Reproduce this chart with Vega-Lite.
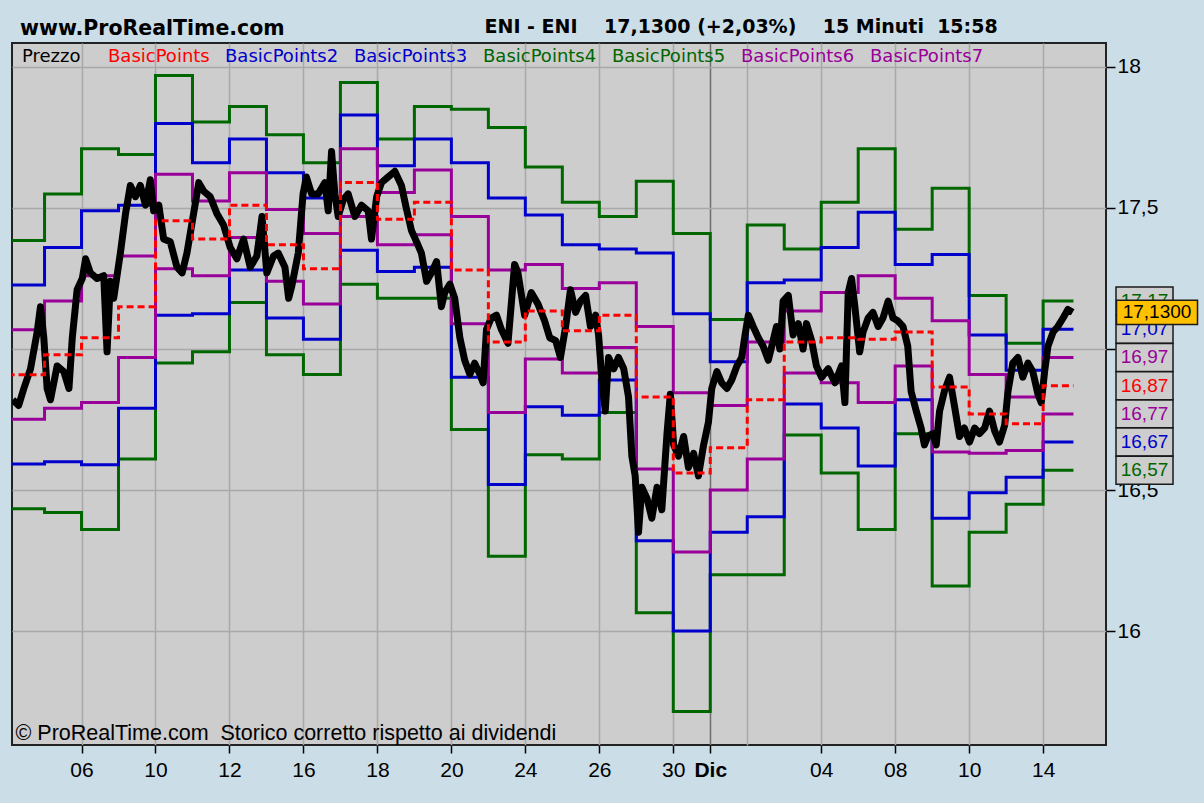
{
"$schema": "https://vega.github.io/schema/vega-lite/v6.json",
"width": 1094,
"height": 702,
"autosize": "none",
"padding": {"left": 12, "top": 43, "right": 98, "bottom": 58},
"background": "#cbdde6",
"config": {"view": {"fill": "#cdcdcd", "stroke": "#222222", "strokeWidth": 2}},
"title": {"text": "www.ProRealTime.com", "anchor": "start", "dx": 13, "dy": 38, "offset": 0, "baseline": "alphabetic", "font": "DejaVu Sans", "fontSize": 20.5, "fontWeight": "bold", "color": "#000000"},
"datasets": {
"levels": [
{"t":-2,"BasicPoints":16.909,"BasicPoints2":17.227,"BasicPoints3":16.592,"BasicPoints4":17.385,"BasicPoints5":16.434,"BasicPoints6":17.068,"BasicPoints7":16.751},
{"t":-1,"BasicPoints":16.98,"BasicPoints2":17.36,"BasicPoints3":16.6,"BasicPoints4":17.55,"BasicPoints5":16.42,"BasicPoints6":17.17,"BasicPoints7":16.79},
{"t":0,"BasicPoints":17.04,"BasicPoints2":17.49,"BasicPoints3":16.59,"BasicPoints4":17.71,"BasicPoints5":16.36,"BasicPoints6":17.26,"BasicPoints7":16.81},
{"t":1,"BasicPoints":17.15,"BasicPoints2":17.51,"BasicPoints3":16.79,"BasicPoints4":17.69,"BasicPoints5":16.61,"BasicPoints6":17.33,"BasicPoints7":16.97},
{"t":2,"BasicPoints":17.455,"BasicPoints2":17.8,"BasicPoints3":17.12,"BasicPoints4":17.97,"BasicPoints5":16.95,"BasicPoints6":17.62,"BasicPoints7":17.285},
{"t":3,"BasicPoints":17.39,"BasicPoints2":17.66,"BasicPoints3":17.125,"BasicPoints4":17.805,"BasicPoints5":16.99,"BasicPoints6":17.525,"BasicPoints7":17.26},
{"t":4,"BasicPoints":17.51,"BasicPoints2":17.745,"BasicPoints3":17.28,"BasicPoints4":17.86,"BasicPoints5":17.165,"BasicPoints6":17.625,"BasicPoints7":17.395},
{"t":5,"BasicPoints":17.37,"BasicPoints2":17.625,"BasicPoints3":17.11,"BasicPoints4":17.76,"BasicPoints5":16.98,"BasicPoints6":17.495,"BasicPoints7":17.24},
{"t":6,"BasicPoints":17.285,"BasicPoints2":17.535,"BasicPoints3":17.035,"BasicPoints4":17.66,"BasicPoints5":16.91,"BasicPoints6":17.41,"BasicPoints7":17.16},
{"t":7,"BasicPoints":17.59,"BasicPoints2":17.83,"BasicPoints3":17.35,"BasicPoints4":17.945,"BasicPoints5":17.23,"BasicPoints6":17.71,"BasicPoints7":17.47},
{"t":8,"BasicPoints":17.46,"BasicPoints2":17.65,"BasicPoints3":17.275,"BasicPoints4":17.745,"BasicPoints5":17.18,"BasicPoints6":17.555,"BasicPoints7":17.37},
{"t":9,"BasicPoints":17.52,"BasicPoints2":17.745,"BasicPoints3":17.29,"BasicPoints4":17.86,"BasicPoints5":17.18,"BasicPoints6":17.635,"BasicPoints7":17.405},
{"t":10,"BasicPoints":17.28,"BasicPoints2":17.66,"BasicPoints3":16.9,"BasicPoints4":17.85,"BasicPoints5":16.715,"BasicPoints6":17.47,"BasicPoints7":17.09},
{"t":11,"BasicPoints":17.025,"BasicPoints2":17.535,"BasicPoints3":16.52,"BasicPoints4":17.785,"BasicPoints5":16.265,"BasicPoints6":17.28,"BasicPoints7":16.775},
{"t":12,"BasicPoints":17.135,"BasicPoints2":17.475,"BasicPoints3":16.795,"BasicPoints4":17.645,"BasicPoints5":16.625,"BasicPoints6":17.3,"BasicPoints7":16.965},
{"t":13,"BasicPoints":17.065,"BasicPoints2":17.37,"BasicPoints3":16.765,"BasicPoints4":17.52,"BasicPoints5":16.61,"BasicPoints6":17.215,"BasicPoints7":16.915},
{"t":14,"BasicPoints":17.12,"BasicPoints2":17.355,"BasicPoints3":16.89,"BasicPoints4":17.47,"BasicPoints5":16.775,"BasicPoints6":17.235,"BasicPoints7":17.005},
{"t":15,"BasicPoints":16.83,"BasicPoints2":17.34,"BasicPoints3":16.32,"BasicPoints4":17.595,"BasicPoints5":16.065,"BasicPoints6":17.08,"BasicPoints7":16.575},
{"t":16,"BasicPoints":16.56,"BasicPoints2":17.125,"BasicPoints3":16.0,"BasicPoints4":17.41,"BasicPoints5":15.715,"BasicPoints6":16.845,"BasicPoints7":16.28},
{"t":17,"BasicPoints":16.65,"BasicPoints2":16.955,"BasicPoints3":16.35,"BasicPoints4":17.105,"BasicPoints5":16.2,"BasicPoints6":16.8,"BasicPoints7":16.5},
{"t":18,"BasicPoints":16.82,"BasicPoints2":17.235,"BasicPoints3":16.405,"BasicPoints4":17.44,"BasicPoints5":16.2,"BasicPoints6":17.025,"BasicPoints7":16.61},
{"t":19,"BasicPoints":17.025,"BasicPoints2":17.245,"BasicPoints3":16.805,"BasicPoints4":17.355,"BasicPoints5":16.695,"BasicPoints6":17.135,"BasicPoints7":16.915},
{"t":20,"BasicPoints":17.04,"BasicPoints2":17.36,"BasicPoints3":16.72,"BasicPoints4":17.52,"BasicPoints5":16.56,"BasicPoints6":17.2,"BasicPoints7":16.88},
{"t":21,"BasicPoints":17.035,"BasicPoints2":17.485,"BasicPoints3":16.585,"BasicPoints4":17.71,"BasicPoints5":16.36,"BasicPoints6":17.26,"BasicPoints7":16.81},
{"t":22,"BasicPoints":17.06,"BasicPoints2":17.3,"BasicPoints3":16.82,"BasicPoints4":17.425,"BasicPoints5":16.7,"BasicPoints6":17.18,"BasicPoints7":16.94},
{"t":23,"BasicPoints":16.865,"BasicPoints2":17.335,"BasicPoints3":16.4,"BasicPoints4":17.57,"BasicPoints5":16.16,"BasicPoints6":17.1,"BasicPoints7":16.635},
{"t":24,"BasicPoints":16.77,"BasicPoints2":17.05,"BasicPoints3":16.49,"BasicPoints4":17.19,"BasicPoints5":16.35,"BasicPoints6":16.91,"BasicPoints7":16.63},
{"t":25,"BasicPoints":16.735,"BasicPoints2":16.925,"BasicPoints3":16.545,"BasicPoints4":17.02,"BasicPoints5":16.45,"BasicPoints6":16.83,"BasicPoints7":16.64},
{"t":26,"BasicPoints":16.87,"BasicPoints2":17.07,"BasicPoints3":16.67,"BasicPoints4":17.17,"BasicPoints5":16.57,"BasicPoints6":16.97,"BasicPoints7":16.77},
{"t":26.82,"BasicPoints":16.87,"BasicPoints2":17.07,"BasicPoints3":16.67,"BasicPoints4":17.17,"BasicPoints5":16.57,"BasicPoints6":16.97,"BasicPoints7":16.77}
],
"price": [
{"t":-1.86,"Prezzo":16.82},{"t":-1.7,"Prezzo":16.8},{"t":-1.56,"Prezzo":16.86},{"t":-1.38,"Prezzo":16.93},{"t":-1.2,"Prezzo":17.06},{"t":-1.11,"Prezzo":17.15},{"t":-1.02,"Prezzo":17.04},{"t":-0.93,"Prezzo":16.86},{"t":-0.84,"Prezzo":16.82},{"t":-0.66,"Prezzo":16.94},{"t":-0.48,"Prezzo":16.92},{"t":-0.34,"Prezzo":16.86},{"t":-0.25,"Prezzo":17.04},{"t":-0.12,"Prezzo":17.21},{"t":0.02,"Prezzo":17.25},{"t":0.11,"Prezzo":17.32},{"t":0.24,"Prezzo":17.27},{"t":0.42,"Prezzo":17.25},{"t":0.6,"Prezzo":17.26},{"t":0.69,"Prezzo":16.99},{"t":0.78,"Prezzo":17.24},{"t":0.87,"Prezzo":17.18},{"t":1.05,"Prezzo":17.34},{"t":1.19,"Prezzo":17.48},{"t":1.32,"Prezzo":17.58},{"t":1.46,"Prezzo":17.54},{"t":1.59,"Prezzo":17.58},{"t":1.73,"Prezzo":17.51},{"t":1.86,"Prezzo":17.6},{"t":1.95,"Prezzo":17.49},{"t":2.09,"Prezzo":17.51},{"t":2.22,"Prezzo":17.39},{"t":2.4,"Prezzo":17.38},{"t":2.58,"Prezzo":17.29},{"t":2.72,"Prezzo":17.27},{"t":2.85,"Prezzo":17.34},{"t":3.03,"Prezzo":17.48},{"t":3.17,"Prezzo":17.59},{"t":3.3,"Prezzo":17.56},{"t":3.48,"Prezzo":17.54},{"t":3.66,"Prezzo":17.48},{"t":3.84,"Prezzo":17.44},{"t":4.02,"Prezzo":17.36},{"t":4.2,"Prezzo":17.32},{"t":4.38,"Prezzo":17.39},{"t":4.56,"Prezzo":17.29},{"t":4.74,"Prezzo":17.33},{"t":4.88,"Prezzo":17.47},{"t":5.01,"Prezzo":17.27},{"t":5.19,"Prezzo":17.33},
{"t":5.32,"Prezzo":17.34},{"t":5.5,"Prezzo":17.29},{"t":5.6,"Prezzo":17.18},{"t":5.68,"Prezzo":17.22},{"t":5.86,"Prezzo":17.34},{"t":5.99,"Prezzo":17.55},{"t":6.08,"Prezzo":17.61},{"t":6.22,"Prezzo":17.55},{"t":6.4,"Prezzo":17.55},{"t":6.58,"Prezzo":17.59},{"t":6.67,"Prezzo":17.49},{"t":6.76,"Prezzo":17.7},{"t":6.85,"Prezzo":17.55},{"t":6.94,"Prezzo":17.47},{"t":7.08,"Prezzo":17.53},{"t":7.21,"Prezzo":17.55},{"t":7.39,"Prezzo":17.47},{"t":7.57,"Prezzo":17.51},{"t":7.75,"Prezzo":17.49},{"t":7.84,"Prezzo":17.39},{"t":7.98,"Prezzo":17.54},{"t":8.11,"Prezzo":17.59},{"t":8.29,"Prezzo":17.61},{"t":8.47,"Prezzo":17.63},{"t":8.65,"Prezzo":17.58},{"t":8.78,"Prezzo":17.5},{"t":8.92,"Prezzo":17.42},{"t":9.06,"Prezzo":17.38},{"t":9.19,"Prezzo":17.34},{"t":9.33,"Prezzo":17.24},{"t":9.46,"Prezzo":17.27},{"t":9.6,"Prezzo":17.31},{"t":9.73,"Prezzo":17.15},{"t":9.82,"Prezzo":17.2},{"t":9.96,"Prezzo":17.23},{"t":10.09,"Prezzo":17.18},{"t":10.23,"Prezzo":17.04},{"t":10.36,"Prezzo":16.96},{"t":10.5,"Prezzo":16.91},{"t":10.63,"Prezzo":16.95},{"t":10.77,"Prezzo":16.91},{"t":10.86,"Prezzo":16.88},{"t":10.95,"Prezzo":17.07},{"t":11.08,"Prezzo":17.11},{"t":11.22,"Prezzo":17.12},{"t":11.35,"Prezzo":17.07},{"t":11.53,"Prezzo":17.02},{"t":11.71,"Prezzo":17.3},{"t":11.8,"Prezzo":17.27},{"t":11.98,"Prezzo":17.12},{"t":12.16,"Prezzo":17.2},{"t":12.34,"Prezzo":17.16},{"t":12.52,"Prezzo":17.1},{"t":12.66,"Prezzo":17.04},
{"t":12.82,"Prezzo":17.03},{"t":12.95,"Prezzo":16.97},{"t":13.09,"Prezzo":17.08},{"t":13.22,"Prezzo":17.21},{"t":13.36,"Prezzo":17.13},{"t":13.49,"Prezzo":17.17},{"t":13.63,"Prezzo":17.19},{"t":13.76,"Prezzo":17.08},{"t":13.9,"Prezzo":17.12},{"t":13.98,"Prezzo":17.05},{"t":14.07,"Prezzo":16.89},{"t":14.16,"Prezzo":16.78},{"t":14.25,"Prezzo":16.97},{"t":14.39,"Prezzo":16.93},{"t":14.52,"Prezzo":16.97},{"t":14.66,"Prezzo":16.93},{"t":14.79,"Prezzo":16.83},{"t":14.88,"Prezzo":16.62},{"t":14.97,"Prezzo":16.55},{"t":15.06,"Prezzo":16.35},{"t":15.15,"Prezzo":16.51},{"t":15.29,"Prezzo":16.47},{"t":15.42,"Prezzo":16.4},{"t":15.56,"Prezzo":16.51},{"t":15.69,"Prezzo":16.43},{"t":15.83,"Prezzo":16.7},{"t":15.92,"Prezzo":16.84},{"t":16.01,"Prezzo":16.66},{"t":16.14,"Prezzo":16.62},{"t":16.28,"Prezzo":16.69},{"t":16.41,"Prezzo":16.58},{"t":16.55,"Prezzo":16.63},{"t":16.68,"Prezzo":16.55},{"t":16.82,"Prezzo":16.66},{"t":16.95,"Prezzo":16.74},{"t":17.04,"Prezzo":16.86},{"t":17.18,"Prezzo":16.92},{"t":17.31,"Prezzo":16.88},{"t":17.45,"Prezzo":16.86},{"t":17.58,"Prezzo":16.89},{"t":17.72,"Prezzo":16.94},{"t":17.85,"Prezzo":16.97},{"t":17.94,"Prezzo":17.05},{"t":18.03,"Prezzo":17.12},{"t":18.16,"Prezzo":17.08},{"t":18.3,"Prezzo":17.04},{"t":18.43,"Prezzo":17.01},{"t":18.57,"Prezzo":16.96},{"t":18.7,"Prezzo":17.03},{"t":18.79,"Prezzo":17.08},{"t":18.88,"Prezzo":17.0},{"t":18.97,"Prezzo":17.17},{"t":19.11,"Prezzo":17.19},{"t":19.24,"Prezzo":17.05},{"t":19.38,"Prezzo":17.09},{"t":19.51,"Prezzo":17.0},{"t":19.6,"Prezzo":17.09},{"t":19.74,"Prezzo":17.03},{"t":19.87,"Prezzo":16.94},
{"t":20.01,"Prezzo":16.9},{"t":20.19,"Prezzo":16.93},{"t":20.37,"Prezzo":16.88},{"t":20.55,"Prezzo":16.94},{"t":20.64,"Prezzo":16.81},{"t":20.73,"Prezzo":17.2},{"t":20.82,"Prezzo":17.25},{"t":20.91,"Prezzo":17.15},{"t":21.04,"Prezzo":16.99},{"t":21.13,"Prezzo":17.06},{"t":21.27,"Prezzo":17.11},{"t":21.4,"Prezzo":17.13},{"t":21.54,"Prezzo":17.08},{"t":21.67,"Prezzo":17.11},{"t":21.81,"Prezzo":17.17},{"t":21.94,"Prezzo":17.11},{"t":22.07,"Prezzo":17.1},{"t":22.21,"Prezzo":17.08},{"t":22.34,"Prezzo":17.01},{"t":22.43,"Prezzo":16.85},{"t":22.57,"Prezzo":16.78},{"t":22.7,"Prezzo":16.72},{"t":22.79,"Prezzo":16.66},{"t":22.88,"Prezzo":16.69},{"t":23.02,"Prezzo":16.7},{"t":23.11,"Prezzo":16.66},{"t":23.2,"Prezzo":16.78},{"t":23.33,"Prezzo":16.85},{"t":23.47,"Prezzo":16.9},{"t":23.6,"Prezzo":16.8},{"t":23.74,"Prezzo":16.69},{"t":23.87,"Prezzo":16.72},{"t":24.01,"Prezzo":16.67},{"t":24.15,"Prezzo":16.72},{"t":24.28,"Prezzo":16.7},{"t":24.42,"Prezzo":16.72},{"t":24.55,"Prezzo":16.78},{"t":24.69,"Prezzo":16.71},{"t":24.82,"Prezzo":16.67},{"t":24.96,"Prezzo":16.73},{"t":25.05,"Prezzo":16.85},{"t":25.18,"Prezzo":16.95},{"t":25.32,"Prezzo":16.97},{"t":25.45,"Prezzo":16.9},{"t":25.59,"Prezzo":16.95},{"t":25.72,"Prezzo":16.92},{"t":25.86,"Prezzo":16.84},{"t":25.95,"Prezzo":16.81},{"t":26.04,"Prezzo":16.92},{"t":26.13,"Prezzo":17.01},{"t":26.27,"Prezzo":17.06},{"t":26.4,"Prezzo":17.08},{"t":26.54,"Prezzo":17.11},{"t":26.67,"Prezzo":17.14},{"t":26.8,"Prezzo":17.13}
],
"boxes": [
{"series":"BasicPoints4","v":17.17,"label":"17,17"},
{"series":"BasicPoints2","v":17.07,"label":"17,07"},
{"series":"BasicPoints6","v":16.97,"label":"16,97"},
{"series":"BasicPoints","v":16.87,"label":"16,87"},
{"series":"BasicPoints7","v":16.77,"label":"16,77"},
{"series":"BasicPoints3","v":16.67,"label":"16,67"},
{"series":"BasicPoints5","v":16.57,"label":"16,57"}
],
"lastprice": [{"v":17.13,"label":"17,1300"}]
},
"encoding": {
"x": {"field": "t", "type": "quantitative", "scale": {"domain": [-1.88, 27.7], "nice": false, "zero": false},
"title": "© ProRealTime.com\u00a0\u00a0Storico corretto rispetto ai dividendi",
"axis": {"values": [0,2,4,6,8,10,12,14,16,17,18,20,22,24,26],
"labelExpr": "['06','','10','','12','','16','','18','','20','','24','','26','','30','Dic','','','04','','08','','10','','14'][datum.value]",
"labelOverlap": false, "labelFlush": false, "domain": false, "grid": true,
"gridColor": {"condition": {"test": "datum.value == 17", "value": "#6e6e6e"}, "value": "#a9a9a9"},
"gridWidth": 1.5, "tickColor": "#000000", "tickSize": 8, "tickWidth": 1.5,
"tickOpacity": {"condition": {"test": "datum.value == 18", "value": 0}, "value": 1},
"labelFont": "Liberation Sans", "labelFontSize": 21, "labelColor": "#000000", "labelPadding": 6,
"labelFontWeight": {"condition": {"test": "datum.value == 17", "value": "bold"}, "value": "normal"},
"titleX": 3, "titleY": -12, "titleAlign": "left", "titleBaseline": "middle", "titleAngle": 0,
"titleFont": "Liberation Sans", "titleFontSize": 21.5, "titleFontWeight": "normal", "titleColor": "#000000"}},
"y": {"field": "v", "type": "quantitative", "scale": {"domain": [15.596, 18.085], "nice": false, "zero": false},
"title": "ENI - ENI\u00a0\u00a0\u00a0\u00a017,1300 (+2,03%)\u00a0\u00a0\u00a0\u00a015 Minuti\u00a0\u00a015:58",
"axis": {"orient": "right", "values": [16,16.5,17,17.5,18],
"labelExpr": "datum.value == 17 ? '' : replace(format(datum.value, '.1~f'), '.', ',')",
"domain": false, "grid": true, "gridColor": "#a9a9a9", "gridWidth": 1.5,
"tickColor": "#000000", "tickSize": 9, "tickWidth": 1.5,
"labelFont": "Liberation Sans", "labelFontSize": 21, "labelColor": "#000000", "labelPadding": 2,
"labelOverlap": false, "labelFlush": false,
"titleX": -622, "titleY": -17, "titleAngle": 0, "titleAlign": "left", "titleBaseline": "middle",
"titleFont": "DejaVu Sans", "titleFontSize": 19, "titleFontWeight": "bold", "titleColor": "#000000"}},
"color": {"field": "series", "type": "nominal",
"scale": {"domain": ["Prezzo","BasicPoints","BasicPoints2","BasicPoints3","BasicPoints4","BasicPoints5","BasicPoints6","BasicPoints7"],
"range": ["#000000","#ff0000","#0000cc","#0000cc","#006600","#006600","#990099","#990099"]},
"legend": {"orient": "none", "legendX": -5, "legendY": 5, "direction": "horizontal", "title": null, "padding": 0,
"symbolSize": 0, "symbolStrokeWidth": 0, "symbolOpacity": 0,
"labelFont": "DejaVu Sans", "labelFontSize": 18, "labelOffset": -3, "columnPadding": 0, "labelLimit": 300,
"encode": {"labels": {"update": {
"fill": {"scale": "color", "field": "value"},
"dx": {"signal": "datum.index == 1 ? 12 : 0"}}}}}}
},
"layer": [
{"data": {"name": "levels"},
"transform": [{"fold": ["BasicPoints4","BasicPoints5","BasicPoints2","BasicPoints3","BasicPoints6","BasicPoints7"], "as": ["series","v"]}],
"mark": {"type": "line", "interpolate": "step-after", "strokeWidth": 3, "clip": true}},
{"data": {"name": "price"},
"transform": [{"fold": ["Prezzo"], "as": ["series","v"]}],
"mark": {"type": "line", "strokeWidth": 7, "strokeJoin": "round", "clip": true}},
{"data": {"name": "levels"},
"transform": [{"fold": ["BasicPoints"], "as": ["series","v"]}],
"mark": {"type": "line", "interpolate": "step-after", "strokeWidth": 3, "strokeDash": [7,4], "clip": true}},
{"data": {"name": "boxes"},
"mark": {"type": "point", "shape": "M-1,-0.49L1,-0.49L1,0.49L-1,0.49Z", "filled": true, "size": 3249, "stroke": "#1a1a1a", "strokeWidth": 1.5, "opacity": 1, "xOffset": 38.5},
"encoding": {"x": {"value": "width"}, "color": {"value": "#cdcdcd"}}},
{"data": {"name": "boxes"},
"mark": {"type": "text", "font": "Liberation Sans", "fontSize": 19, "align": "center", "baseline": "middle", "xOffset": 38.5},
"encoding": {"x": {"value": "width"}, "text": {"field": "label"}}},
{"data": {"name": "lastprice"},
"mark": {"type": "point", "shape": "M-1,-0.3L1,-0.3L1,0.3L-1,0.3Z", "filled": true, "size": 6561, "stroke": "#1a1a1a", "strokeWidth": 1.5, "opacity": 1, "xOffset": 51},
"encoding": {"x": {"value": "width"}, "color": {"value": "#ffc000"}}},
{"data": {"name": "lastprice"},
"mark": {"type": "text", "font": "Liberation Sans", "fontSize": 19, "align": "center", "baseline": "middle", "xOffset": 51},
"encoding": {"x": {"value": "width"}, "text": {"field": "label"}, "color": {"value": "#000000"}}}
]
}
